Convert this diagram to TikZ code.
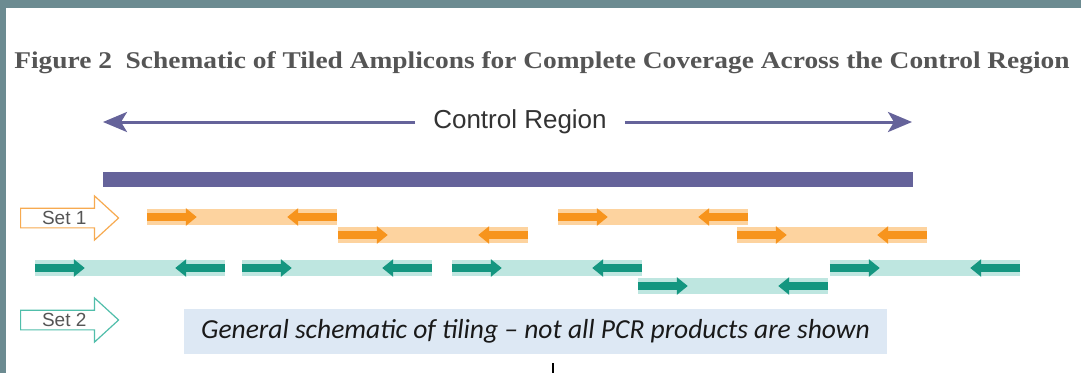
\documentclass[tikz,border=0pt]{standalone}
\usepackage{fontspec}
\setmainfont{Liberation Serif}
\setsansfont{Liberation Sans}
\newfontfamily\calibrifont{Carlito}
\usetikzlibrary{arrows.meta,shapes.arrows}

\definecolor{slatebg}{RGB}{108,139,145}
\definecolor{ctrlpurple}{RGB}{101,99,154}
\definecolor{orangedark}{RGB}{247,148,29}
\definecolor{orangelight}{RGB}{253,211,159}
\definecolor{tealdark}{RGB}{20,150,128}
\definecolor{teallight}{RGB}{190,230,224}
\definecolor{setorange}{RGB}{247,170,80}
\definecolor{setteal}{RGB}{80,190,170}
\definecolor{noteblue}{RGB}{221,232,244}
\definecolor{titlegray}{RGB}{85,85,85}

\tikzstyle{band} = [inner sep=0pt, minimum width=190pt, minimum height=16pt]
\tikzstyle{primer} = [line width=8pt, -{Triangle[length=11pt,width=17pt]}]
\tikzstyle{setarrow} = [single arrow, line width=1.2pt, fill=white, font=\sffamily\fontsize{19}{19}\selectfont,
    text=titlegray, minimum height=98pt, minimum width=44pt, single arrow head extend=11.5pt,
    single arrow tip angle=85, inner sep=2pt]

\begin{document}
\begin{tikzpicture}[x=1pt, y=-1pt]
\useasboundingbox (0,0) rectangle (1081,373);
\fill[slatebg] (0,0) rectangle (1081,373);
\fill[white] (6,8) rectangle (1081,373);

% title
\node[font=\bfseries\fontsize{24}{24}\selectfont, text=titlegray] (title) at (542,63)
    {\scalebox{1.142}[1]{Figure 2\ \ Schematic of Tiled Amplicons for Complete Coverage Across the Control Region}};

% control region
\node[font=\sffamily\fontsize{26}{26}\selectfont, text=black!80, inner xsep=18pt] (region) at (520,122) {Control Region};
\coordinate (regionl) at (103,122);
\coordinate (regionr) at (912,122);
\draw[ctrlpurple, line width=3pt, -{Stealth[length=24pt,width=20pt,inset=6pt]}] (region.west) -- (regionl);
\draw[ctrlpurple, line width=3pt, -{Stealth[length=24pt,width=20pt,inset=6pt]}] (region.east) -- (regionr);
\node[fill=ctrlpurple, inner sep=0pt, minimum width=810pt, minimum height=15pt] (bar) at (508,179) {};

% set 1
\node[setarrow, draw=setorange, anchor=tail] (set1) at (20,218) {Set 1};
\foreach \x/\y [count=\i] in {147/217, 338/235, 558/217, 737/235} {
    \node[band, fill=orangelight] (o\i) at (\x+95,\y) {};
    \draw[primer, orangedark] (o\i.west) -- ++(50,0);
    \draw[primer, orangedark] (o\i.east) -- ++(-50,0);
}

% set 2
\foreach \x/\y [count=\i] in {35/268, 242/268, 452/268, 638/286, 830/268} {
    \node[band, fill=teallight] (t\i) at (\x+95,\y) {};
    \draw[primer, tealdark] (t\i.west) -- ++(50,0);
    \draw[primer, tealdark] (t\i.east) -- ++(-50,0);
}
\node[setarrow, draw=setteal, anchor=tail] (set2) at (20,320) {Set 2};

% note
\node[fill=noteblue, minimum width=703pt, minimum height=45pt,
    font=\calibrifont\itshape\fontsize{27.5}{27.5}\selectfont, text=black!90] (note) at (535.5,331.5)
    {General schematic of tiling – not all PCR products are shown};
\coordinate (mark) at (553,363);
\draw[line width=2pt] (mark) -- ++(0,10);
\end{tikzpicture}
\end{document}
